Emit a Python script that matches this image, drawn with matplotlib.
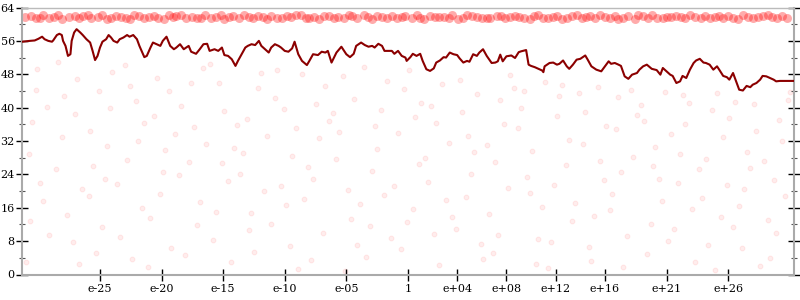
import numpy as np
import matplotlib.pyplot as plt
from matplotlib.ticker import MultipleLocator

# dark red trace: x is the decimal exponent, y is the value
line_x = [-31.3, -30.7, -30.3, -30.0, -29.7, -29.5, -29.2, -28.9, -28.8, -28.5,
          -28.3, -28.1, -28.0, -27.8, -27.6, -27.4, -27.3, -27.1, -26.9, -26.6,
          -26.4, -26.1, -25.8, -25.6, -25.4, -25.2, -25.0, -24.8, -24.5, -24.3,
          -24.1, -23.9, -23.6, -23.4, -23.1, -22.8, -22.6, -22.3, -22.0, -21.8,
          -21.4, -21.2, -20.9, -20.7, -20.4, -20.1, -19.9, -19.6, -19.3, -19.0,
          -18.8, -18.5, -18.2, -17.8, -17.6, -17.2, -16.9, -16.6, -16.3, -16.1,
          -15.7, -15.4, -15.1, -14.9, -14.6, -14.3, -14.0, -13.8, -13.5, -13.2,
          -13.0, -12.7, -12.4, -12.1, -11.9, -11.6, -11.3, -11.1, -10.8, -10.5,
          -10.3, -10.0, -9.7, -9.4, -9.2, -8.9, -8.6, -8.2, -8.0, -7.7,
          -7.3, -7.0, -6.7, -6.5, -6.2, -5.8, -5.4, -5.0, -4.7, -4.4,
          -4.2, -3.8, -3.5, -3.2, -2.9, -2.7, -2.4, -2.1, -1.9, -1.6,
          -1.3, -1.1, -0.8, -0.5, -0.2, -0.1, 0.2, 0.4, 0.7, 1.0,
          1.2, 1.5, 1.8, 2.1, 2.3, 2.6, 2.9, 3.1, 3.4, 3.7,
          4.0, 4.2, 4.5, 4.8, 5.0, 5.3, 5.6, 5.8, 6.1, 6.4,
          6.8, 7.1, 7.3, 7.5, 7.7, 8.0, 8.4, 8.7, 9.0, 9.2,
          9.6, 9.8, 10.0, 10.3, 10.6, 10.9, 11.0, 11.1, 11.5, 11.8,
          12.1, 12.3, 12.6, 12.9, 13.1, 13.4, 13.7, 14.0, 14.4, 14.6,
          14.9, 15.3, 15.7, 16.0, 16.3, 16.5, 16.8, 17.1, 17.3, 17.6,
          17.9, 18.2, 18.6, 18.8, 19.1, 19.4, 19.8, 20.2, 20.5, 20.7,
          21.0, 21.3, 21.5, 21.8, 22.1, 22.3, 22.6, 22.9, 23.2, 23.4,
          23.7, 24.0, 24.2, 24.5, 24.8, 25.1, 25.3, 25.6, 25.9, 26.1,
          26.4, 26.7, 26.9, 27.2, 27.5, 27.8, 28.0, 28.3, 28.6, 28.8,
          29.1, 29.4, 29.7, 29.9, 30.2, 31.4]
line_y = [55.8, 56.0, 56.1, 56.5, 57.0, 56.4, 56.0, 55.8, 56.1, 57.4,
          57.7, 57.4, 56.0, 54.8, 52.4, 52.8, 56.0, 58.0, 58.8, 58.0,
          57.4, 56.4, 55.6, 53.6, 51.4, 52.4, 54.4, 55.8, 56.4, 57.4,
          56.8, 56.0, 55.6, 56.4, 56.8, 57.4, 57.0, 57.4, 56.4, 54.8,
          52.1, 52.4, 54.4, 55.6, 55.2, 54.8, 56.0, 57.0, 54.8, 54.0,
          54.4, 55.2, 54.0, 54.8, 53.4, 52.9, 54.0, 55.2, 55.3, 53.6,
          54.0, 53.6, 54.4, 52.6, 52.4, 51.6, 50.0, 51.2, 52.8, 54.4,
          54.8, 55.2, 55.0, 56.0, 54.8, 54.0, 53.2, 54.4, 55.2, 54.8,
          54.4, 53.6, 53.4, 54.2, 55.8, 52.8, 51.2, 50.2, 51.2, 52.8,
          52.6, 53.4, 53.2, 53.6, 50.8, 53.2, 54.6, 52.8, 52.1, 52.9,
          54.8, 55.6, 55.0, 54.6, 54.8, 54.4, 55.3, 54.8, 53.6, 53.6,
          53.6, 52.9, 53.6, 52.4, 52.0, 51.2, 52.1, 52.9, 52.4, 52.9,
          51.2, 49.2, 48.8, 49.4, 50.8, 51.3, 52.1, 52.0, 53.2, 52.8,
          52.6, 51.8, 50.8, 51.2, 51.0, 52.8, 52.4, 53.2, 54.0, 52.4,
          50.7, 50.8, 51.1, 52.7, 51.1, 52.3, 52.5, 51.9, 53.3, 53.5,
          53.8, 50.3, 50.0, 49.7, 49.3, 48.9, 48.5, 49.9, 50.7, 50.8,
          50.3, 50.5, 51.3, 49.9, 49.3, 50.3, 51.5, 51.7, 52.5, 51.5,
          49.9, 49.1, 48.7, 49.9, 51.1, 50.5, 50.7, 50.3, 50.0, 47.5,
          46.9, 47.9, 48.3, 49.1, 49.9, 50.3, 49.3, 49.0, 47.9, 49.5,
          48.7, 47.9, 47.6, 45.9, 46.3, 47.6, 47.1, 49.1, 50.7, 51.3,
          51.7, 50.8, 50.7, 50.3, 49.1, 49.9, 49.0, 47.6, 47.3, 46.7,
          48.3, 45.9, 44.3, 44.1, 45.2, 44.9, 45.5, 45.9, 46.7, 47.6,
          47.5, 47.1, 46.7, 46.3, 46.4, 46.4]

# dense band of points near the top (two passes of readings)
band_x = [-31.1, -30.2, -29.6, -28.7, -28.1, -27.0, -26.4, -25.7, -24.8, -24.1,
          -23.3, -22.6, -21.8, -21.0, -20.3, -19.4, -18.8, -18.0, -17.1, -16.5,
          -15.6, -14.9, -14.2, -13.3, -12.6, -11.8, -11.1, -10.2, -9.5, -8.7,
          -8.0, -7.2, -6.4, -5.7, -4.8, -4.1, -3.2, -2.5, -1.7, -0.9,
          -0.2, 0.7, 1.3, 2.2, 2.9, 3.6, 4.5, 5.2, 6.0, 6.7,
          7.6, 8.3, 9.0, 9.9, 10.6, 11.4, 12.1, 12.9, 13.7, 14.5,
          15.2, 16.0, 16.8, 17.5, 18.4, 19.1, 19.8, 20.7, 21.4, 22.2,
          22.9, 23.8, 24.5, 25.3, 26.0, 26.8, 27.6, 28.4, 29.2, 30.0,
          30.8]
band_y = [61.8, 61.5, 62.1, 61.7, 61.3, 62.0, 61.9, 61.4, 62.2, 61.6,
          61.8, 61.2, 62.0, 61.7, 61.5, 62.3, 61.9, 61.4, 61.6, 62.1,
          61.8, 61.3, 61.9, 62.2, 61.5, 61.7, 62.0, 61.4, 61.8, 62.1,
          61.6, 61.3, 61.9, 61.7, 62.2, 61.5, 61.8, 62.0, 61.4, 61.6,
          61.9, 62.1, 61.3, 61.7, 61.8, 62.2, 61.5, 61.9, 61.6, 61.4,
          62.0, 61.7, 61.8, 61.3, 62.1, 61.6, 61.9, 61.5, 62.2, 61.7,
          61.4, 61.8, 62.0, 61.6, 61.3, 61.9, 62.1, 61.5, 61.7, 61.8,
          62.2, 61.4, 61.6, 62.0, 61.9, 61.3, 61.7, 61.8, 62.1, 61.5,
          61.6]
band_x2 = [-30.6, -29.9, -29.1, -28.4, -27.5, -26.7, -26.0, -25.2, -24.4, -23.7,
           -22.9, -22.2, -21.4, -20.6, -19.8, -19.1, -18.4, -17.5, -16.8, -16.0,
           -15.2, -14.5, -13.7, -12.9, -12.2, -11.4, -10.6, -9.8, -9.1, -8.3,
           -7.6, -6.8, -6.0, -5.2, -4.5, -3.6, -2.9, -2.1, -1.3, -0.5,
           0.3, 1.0, 1.8, 2.5, 3.3, 4.1, 4.8, 5.6, 6.4, 7.2,
           7.9, 8.7, 9.4, 10.2, 11.0, 11.8, 12.5, 13.3, 14.1, 14.8,
           15.6, 16.4, 17.1, 17.9, 18.7, 19.5, 20.2, 21.0, 21.8, 22.5,
           23.3, 24.1, 24.9, 25.6, 26.4, 27.2, 28.0, 28.8, 29.6, 30.4]
band_y2 = [62.0, 61.6, 61.4, 62.2, 61.8, 61.5, 62.1, 61.7, 61.3, 61.9,
           61.5, 62.1, 61.6, 61.9, 61.3, 61.7, 62.2, 61.8, 61.4, 61.6,
           62.1, 61.7, 61.5, 61.8, 62.0, 61.3, 61.6, 61.9, 62.2, 61.5,
           61.8, 62.0, 61.4, 61.6, 61.9, 62.1, 61.3, 61.7, 62.0, 61.8,
           61.5, 61.4, 62.0, 61.8, 61.6, 61.3, 62.1, 61.7, 61.5, 62.0,
           61.6, 61.9, 61.4, 62.0, 61.5, 61.8, 61.3, 62.0, 61.5, 61.9,
           62.1, 61.5, 61.3, 61.9, 62.2, 61.6, 61.4, 61.8, 62.0, 61.5,
           61.7, 62.0, 61.8, 61.5, 61.6, 62.1, 61.4, 61.9, 61.7, 62.0]

# faint scattered points below the trace
dot_x = [-31.0, -30.2, -29.6, -30.8, -29.1, -30.5, -29.9, -30.1, -29.3, -30.7,
         -28.6, -27.2, -26.9, -28.1, -27.7, -26.5, -28.4, -27.0, -26.7, -27.9,
         -25.9, -24.4, -25.3, -24.0, -25.6, -24.8, -24.2, -25.1, -24.6, -25.8,
         -23.4, -22.1, -22.8, -21.6, -23.0, -22.4, -21.9, -23.6, -22.6, -21.4,
         -20.9, -19.7, -20.4, -19.2, -20.6, -19.9, -19.4, -21.1, -20.1, -18.9,
         -18.4, -17.1, -17.8, -16.6, -18.1, -17.4, -16.9, -18.6, -17.6, -16.4,
         -15.8, -14.6, -15.3, -14.1, -15.6, -14.9, -14.4, -16.1, -15.1, -13.9,
         -13.4, -12.2, -12.9, -11.7, -13.1, -12.5, -11.9, -13.6, -12.7, -11.4,
         -10.8, -9.6, -10.3, -9.1, -10.6, -9.9, -9.4, -11.1, -10.1, -8.9,
         -8.4, -7.2, -7.9, -6.7, -8.1, -7.5, -6.9, -8.6, -7.7, -6.4,
         -5.8, -4.6, -5.3, -4.1, -5.6, -4.9, -4.4, -6.1, -5.1, -3.9,
         -3.4, -2.2, -2.9, -1.7, -3.1, -2.5, -1.9, -3.6, -2.7, -1.4,
         -0.8, 0.4, -0.3, 0.9, -0.6, 0.1, 0.6, -1.1, -0.1, 1.1,
         1.6, 2.8, 2.1, 3.3, 1.9, 2.5, 3.1, 1.4, 2.3, 3.6,
         4.2, 5.4, 4.7, 5.9, 4.4, 5.1, 5.6, 3.9, 4.9, 6.1,
         6.6, 7.8, 7.1, 8.3, 6.9, 7.5, 8.1, 6.4, 7.3, 8.6,
         9.2, 10.4, 9.7, 10.9, 9.4, 10.1, 10.6, 8.9, 9.9, 11.1,
         11.6, 12.8, 12.1, 13.3, 11.9, 12.5, 13.1, 11.4, 12.3, 13.6,
         14.2, 15.4, 14.7, 15.9, 14.4, 15.1, 15.6, 13.9, 14.9, 16.1,
         16.6, 17.8, 17.1, 18.3, 16.9, 17.5, 18.1, 16.4, 17.3, 18.6,
         19.2, 20.4, 19.7, 20.9, 19.4, 20.1, 20.6, 18.9, 19.9, 21.1,
         21.6, 22.8, 22.1, 23.3, 21.9, 22.5, 23.1, 21.4, 22.3, 23.6,
         24.2, 25.4, 24.7, 25.9, 24.4, 25.1, 25.6, 23.9, 24.9, 26.1,
         26.6, 27.8, 27.1, 28.3, 26.9, 27.5, 28.1, 26.4, 27.3, 28.6,
         29.2, 30.4, 29.7, 30.9, 29.4, 30.1, 30.6, 28.9, 29.9, 31.0]
dot_y = [3.1, 44.2, 17.5, 28.9, 9.4, 36.6, 22.0, 49.3, 40.1, 12.8,
         25.3, 7.7, 46.8, 33.0, 14.2, 20.6, 51.0, 38.4, 2.5, 42.7,
         18.9, 30.7, 5.2, 48.5, 26.1, 11.3, 39.8, 44.0, 22.8, 34.5,
         9.0, 41.6, 27.4, 16.0, 50.2, 3.8, 31.9, 21.7, 45.3, 36.2,
         13.6, 29.8, 47.2, 6.3, 38.0, 24.5, 43.9, 1.7, 19.4, 33.6,
         40.5, 11.9, 27.0, 49.6, 4.6, 35.4, 17.3, 23.8, 45.9, 31.2,
         8.2, 22.4, 46.0, 30.3, 15.1, 39.2, 2.9, 50.5, 26.7, 35.8,
         29.1, 44.8, 10.6, 19.9, 37.3, 5.5, 48.2, 24.0, 14.7, 33.1,
         42.3, 6.8, 21.3, 35.0, 49.0, 16.6, 28.5, 12.2, 39.7, 1.2,
         18.1, 32.6, 3.4, 45.1, 25.7, 40.9, 10.0, 48.0, 22.9, 36.9,
         27.8, 13.3, 47.5, 7.1, 34.2, 20.2, 42.0, 38.6, 0.9, 16.9,
         4.3, 39.4, 24.9, 46.4, 11.6, 30.0, 19.0, 49.8, 35.5, 8.7,
         33.8, 15.7, 44.5, 26.4, 6.0, 48.9, 37.7, 21.1, 12.5, 41.2,
         22.2, 45.6, 9.8, 31.5, 40.3, 2.2, 17.8, 27.9, 36.4, 13.9,
         46.7, 29.3, 18.5, 7.4, 38.9, 24.1, 43.3, 11.0, 33.3, 3.6,
         14.4, 36.0, 26.9, 47.9, 5.1, 41.8, 20.8, 31.0, 9.5, 44.6,
         40.0, 2.6, 23.3, 16.2, 44.1, 29.6, 8.5, 35.2, 19.6, 46.2,
         7.9, 26.3, 37.9, 12.9, 21.5, 45.4, 32.2, 1.5, 42.8, 17.1,
         31.4, 45.0, 6.6, 22.6, 39.0, 14.0, 27.1, 43.4, 3.2, 35.6,
         19.2, 9.2, 42.5, 28.2, 34.8, 1.9, 44.3, 15.4, 24.6, 38.2,
         36.8, 23.0, 12.0, 43.7, 4.9, 30.6, 17.6, 40.7, 26.0, 8.1,
         10.9, 41.0, 29.0, 3.0, 21.9, 36.1, 15.8, 33.7, 43.0, 25.2,
         27.6, 13.7, 39.5, 21.4, 7.0, 43.6, 32.9, 18.3, 1.0, 37.4,
         41.4, 25.5, 6.4, 34.4, 16.4, 29.4, 40.8, 11.4, 20.5, 2.0,
         13.0, 32.0, 22.7, 41.9, 4.0, 37.1, 18.7, 27.3, 9.9, 43.8]

tick_pos = [-25, -20, -15, -10, -5, 0, 4, 8, 12, 16, 21, 26]
tick_lab = ['e-25', 'e-20', 'e-15', 'e-10', 'e-05', '1',
            'e+04', 'e+08', 'e+12', 'e+16', 'e+21', 'e+26']

plt.rcParams['font.family'] = 'DejaVu Serif'
plt.rcParams['font.size'] = 8

fig = plt.figure(figsize=(8, 3), dpi=100)
ax = fig.add_axes([0.028, 0.085, 0.9645, 0.89])

ax.scatter(dot_x, dot_y, s=12, color='red', alpha=0.07, linewidths=0.8, zorder=1)
ax.scatter(band_x, band_y, s=42, color='red', alpha=0.33, linewidths=0, zorder=1)
ax.scatter(band_x2, band_y2, s=42, color='red', alpha=0.33, linewidths=0, zorder=1)
ax.plot(line_x, line_y, color='#8b0000', lw=1.5, zorder=3)

ax.set_xlim(-31.3, 31.35)
ax.set_ylim(0, 64)
ax.yaxis.set_major_locator(MultipleLocator(8))
ax.yaxis.set_minor_locator(MultipleLocator(4))
ax.set_xticks(tick_pos)
ax.set_xticklabels(tick_lab)

for s in ['left', 'bottom', 'right']:
    ax.spines[s].set_color('#aaaaaa')
    ax.spines[s].set_linewidth(1.5)
ax.spines['top'].set_color('#bbbbbb')
ax.spines['top'].set_linewidth(1.0)

ax.tick_params(axis='y', which='major', left=True, right=True, direction='inout',
               length=9, width=1, color='black', pad=1)
ax.tick_params(axis='y', which='minor', left=True, right=True, direction='inout',
               length=5, width=0.8, color='#555555')
ax.tick_params(axis='x', which='major', direction='inout', length=9, width=1,
               color='black', pad=2)

plt.savefig('out.png', dpi=100)
